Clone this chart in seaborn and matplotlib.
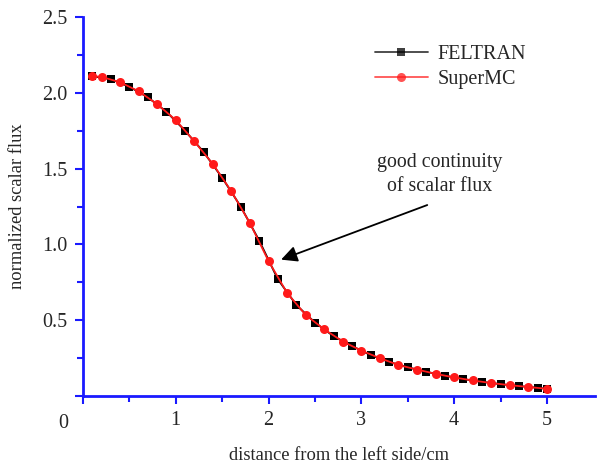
import numpy as np
import pandas as pd
import seaborn as sns
import matplotlib.pyplot as plt

# FELTRAN points (black squares)
x_feltran = [0.1, 0.3, 0.5, 0.7, 0.9, 1.1, 1.3, 1.5, 1.7, 1.9, 2.1, 2.3, 2.5,
             2.7, 2.9, 3.1, 3.3, 3.5, 3.7, 3.9, 4.1, 4.3, 4.5, 4.7, 4.9, 5.0]
y_feltran = [2.11, 2.09, 2.04, 1.97, 1.875, 1.75, 1.61, 1.44, 1.25, 1.025, 0.77,
             0.60, 0.485, 0.395, 0.33, 0.27, 0.225, 0.19, 0.16, 0.135, 0.112,
             0.094, 0.079, 0.066, 0.055, 0.048]

# SuperMC points (red circles)
x_supermc = [0.1, 0.2, 0.4, 0.6, 0.8, 1.0, 1.2, 1.4, 1.6, 1.8, 2.0, 2.2, 2.4,
             2.6, 2.8, 3.0, 3.2, 3.4, 3.6, 3.8, 4.0, 4.2, 4.4, 4.6, 4.8, 5.0]
y_supermc = [2.11, 2.105, 2.07, 2.01, 1.925, 1.82, 1.68, 1.53, 1.35, 1.14, 0.89,
             0.68, 0.535, 0.44, 0.36, 0.30, 0.25, 0.205, 0.175, 0.147, 0.123,
             0.103, 0.086, 0.072, 0.06, 0.048]

x_ticks = [0, 1, 2, 3, 4, 5]
x_labels = ['', '1', '2', '3', '4', '5']
y_ticks = [0, 0.5, 1.0, 1.5, 2.0, 2.5]
y_labels = ['', '0.5', '1.0', '1.5', '2.0', '2.5']

df = pd.concat([
    pd.DataFrame({'x': x_feltran, 'y': y_feltran, 'code': 'FELTRAN'}),
    pd.DataFrame({'x': x_supermc, 'y': y_supermc, 'code': 'SuperMC'}),
])

sns.set_style('white')
plt.rcParams['font.family'] = ['Liberation Serif', 'DejaVu Serif']

fig = plt.figure(figsize=(5.97, 4.66), dpi=100)
ax = fig.add_axes([0.139, 0.150, 0.858, 0.8135])

blue = '#1a1aff'
styles = {'FELTRAN': ('black', 's', 6), 'SuperMC': ('#ff1a1a', 'o', 6.5)}
for name, (col, mk, ms) in styles.items():
    sub = df[df['code'] == name]
    sns.lineplot(data=sub, x='x', y='y', ax=ax, color=col, marker=mk,
                 markersize=ms, markeredgewidth=0, linewidth=1.3, label=name)

ax.set_xlim(0, 5.52)
ax.set_ylim(0, 2.5)
ax.set_xticks(x_ticks)
ax.set_xticklabels(x_labels)
ax.set_yticks(y_ticks)
ax.set_yticklabels(y_labels)
ax.set_xticks(np.arange(0.5, 5.5, 1.0), minor=True)
ax.set_yticks(np.arange(0.25, 2.5, 0.5), minor=True)
ax.tick_params(axis='both', which='major', direction='out', length=6, width=1.5,
               color=blue, labelsize=14.5, pad=5)
ax.tick_params(axis='both', which='minor', direction='out', length=4, width=1.5,
               color=blue)
ax.tick_params(bottom=True, left=True, which='both')

for s in ['top', 'right']:
    ax.spines[s].set_visible(False)
for s in ['left', 'bottom']:
    ax.spines[s].set_color(blue)
    ax.spines[s].set_linewidth(2)

ax.set_xlabel('distance from the left side/cm', fontsize=13.3, labelpad=12)
ax.set_ylabel('normalized scalar flux', fontsize=13.3, labelpad=12)
fig.text(63 / 597, 1 - 423 / 466, '0', fontsize=14.5, ha='center', va='center')

ax.text(3.84, 1.46, 'good continuity\nof scalar flux', ha='center', va='center',
        fontsize=14.3, linespacing=1.35)
ax.annotate('', xy=(2.135, 0.90), xytext=(3.71, 1.26),
            arrowprops=dict(arrowstyle='-|>', color='black', lw=1.3,
                            mutation_scale=24, shrinkA=0, shrinkB=0))

leg = ax.legend(loc='upper left', bbox_to_anchor=(0.535, 0.975), frameon=False,
                fontsize=14.5, handlelength=2.6, handletextpad=0.5,
                labelspacing=0.3)
for h in leg.get_lines():
    h.set_alpha(0.75)

fig.savefig('out.png', dpi=100)
